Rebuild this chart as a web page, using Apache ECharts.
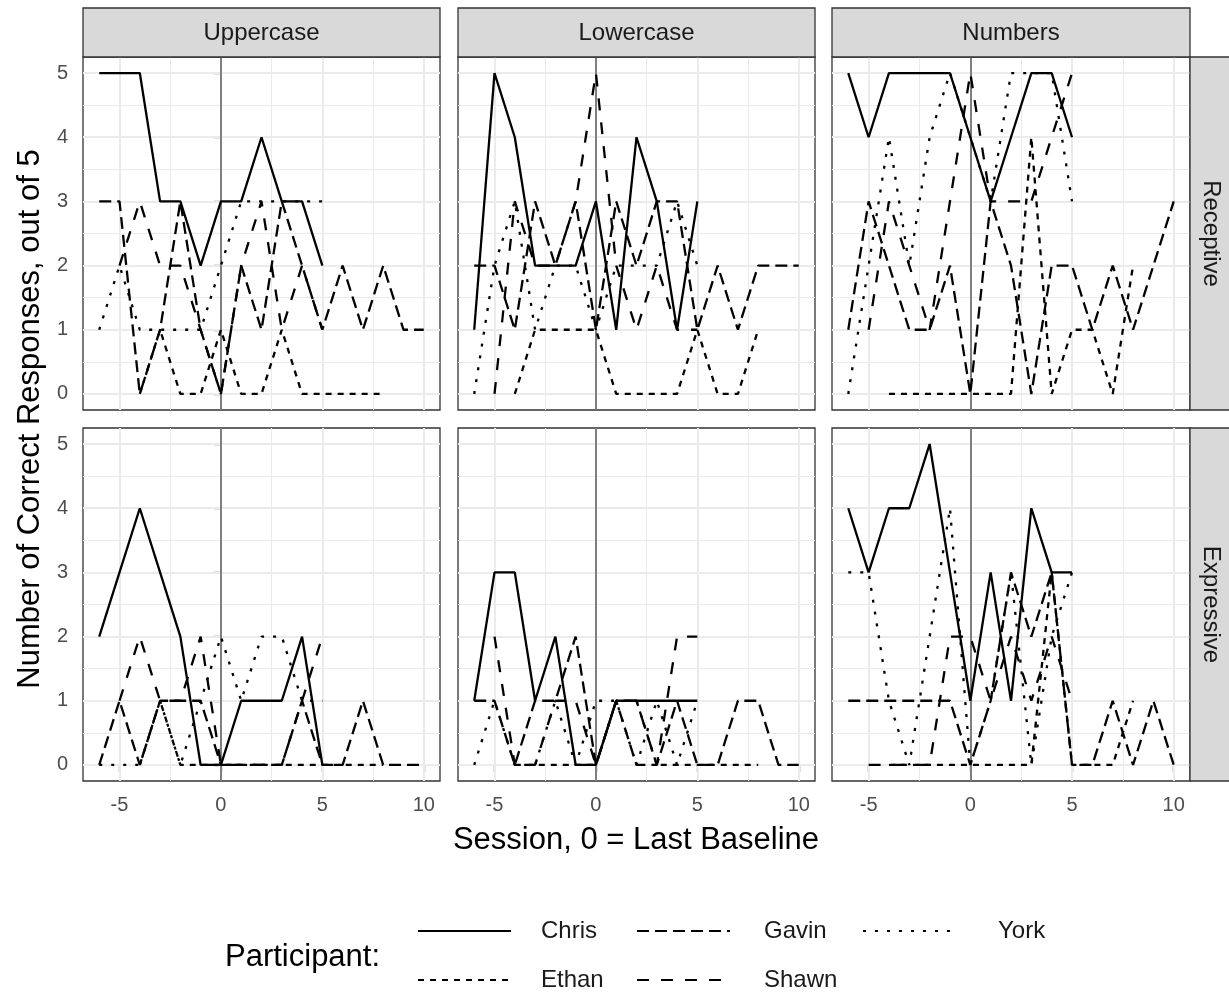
<!DOCTYPE html>
<html><head><meta charset="utf-8">
<script src="https://cdn.jsdelivr.net/npm/echarts@6/dist/echarts.min.js"></script>
<style>html,body{margin:0;padding:0;background:#fff}#c{width:1229px;height:995px}</style>
</head><body><div id="c"></div>
<script>
const n = null;
const sessions = [-6,-5,-4,-3,-2,-1,0,1,2,3,4,5,6,7,8,9,10];
const participants = ['Chris','Ethan','Gavin','Shawn','York'];
const materials = ['Uppercase','Lowercase','Numbers'];
const tasks = ['Receptive','Expressive'];
const xTicks = [-5,0,5,10];
const yTicks = [0,1,2,3,4,5];
const xMinor = [-2.5,2.5,7.5];
const yMinor = [0.5,1.5,2.5,3.5,4.5];
const lastBaseline = [0];

// Uppercase / Receptive
const upperRecChris = [5,5,5,3,3,2,3,3,4,3,3,2,n,n,n,n,n];
const upperRecEthan = [n,n,0,1,0,0,1,0,0,1,0,0,0,0,0,n,n];
const upperRecGavin = [3,3,0,1,3,1,0,2,1,3,2,1,2,1,2,1,1];
const upperRecShawn = [n,2,3,2,2,1,0,2,3,1,2,1,n,n,n,n,n];
const upperRecYork  = [1,2,1,1,1,1,2,3,3,3,3,3,n,n,n,n,n];
// Lowercase / Receptive
const lowerRecChris = [1,5,4,2,2,2,3,1,4,3,1,3,n,n,n,n,n];
const lowerRecEthan = [n,n,0,1,1,1,1,0,0,0,0,1,0,0,1,n,n];
const lowerRecGavin = [2,2,1,3,2,3,1,3,2,3,3,1,2,1,2,2,2];
const lowerRecShawn = [n,0,3,2,2,3,5,2,1,2,1,1,n,n,n,n,n];
const lowerRecYork  = [0,2,3,1,2,2,1,2,2,2,3,2,n,n,n,n,n];
// Numbers / Receptive
const numRecChris = [5,4,5,5,5,5,4,3,4,5,5,4,n,n,n,n,n];
const numRecEthan = [n,n,0,0,0,0,0,0,0,4,0,1,1,0,2,n,n];
const numRecGavin = [1,3,2,1,1,2,0,3,2,0,2,2,1,2,1,2,3];
const numRecShawn = [n,1,3,2,1,3,5,3,3,3,4,5,n,n,n,n,n];
const numRecYork  = [0,2,4,2,4,5,4,3,5,5,5,3,n,n,n,n,n];
// Uppercase / Expressive
const upperExpChris = [2,3,4,3,2,0,0,1,1,1,2,0,n,n,n,n,n];
const upperExpEthan = [n,n,0,1,0,0,0,0,0,0,0,0,0,0,0,n,n];
const upperExpGavin = [0,1,0,1,1,1,0,0,0,0,1,0,0,1,0,0,0];
const upperExpShawn = [n,1,2,1,1,2,0,0,0,0,1,2,n,n,n,n,n];
const upperExpYork  = [0,0,0,1,0,1,2,1,2,2,1,1,n,n,n,n,n];
// Lowercase / Expressive
const lowerExpChris = [1,3,3,1,2,0,0,1,1,1,1,1,n,n,n,n,n];
const lowerExpEthan = [n,n,0,0,0,0,0,1,1,0,0,0,0,0,0,n,n];
const lowerExpGavin = [1,1,0,1,1,2,0,1,0,0,1,0,0,1,1,0,0];
const lowerExpShawn = [n,2,0,0,1,1,0,1,1,0,2,2,n,n,n,n,n];
const lowerExpYork  = [0,1,0,0,1,0,1,1,0,1,0,1,n,n,n,n,n];
// Numbers / Expressive
const numExpChris = [4,3,4,4,5,3,1,3,1,4,3,3,n,n,n,n,n];
const numExpEthan = [n,n,0,0,0,0,0,0,0,0,3,0,0,0,1,n,n];
const numExpGavin = [1,1,1,1,1,1,0,1,3,2,3,0,0,1,0,1,0];
const numExpShawn = [n,0,0,0,0,2,2,1,2,1,2,1,n,n,n,n,n];
const numExpYork  = [3,3,1,0,2,4,0,1,3,0,2,3,n,n,n,n,n];

const panels = [
  [upperRecChris, upperRecEthan, upperRecGavin, upperRecShawn, upperRecYork],
  [lowerRecChris, lowerRecEthan, lowerRecGavin, lowerRecShawn, lowerRecYork],
  [numRecChris, numRecEthan, numRecGavin, numRecShawn, numRecYork],
  [upperExpChris, upperExpEthan, upperExpGavin, upperExpShawn, upperExpYork],
  [lowerExpChris, lowerExpEthan, lowerExpGavin, lowerExpShawn, lowerExpYork],
  [numExpChris, numExpEthan, numExpGavin, numExpShawn, numExpYork]
];

const FONT = '"Liberation Sans", Arial, Helvetica, sans-serif';
const dashFor = {Chris:'solid', Ethan:[6,6], Gavin:[12,6], Shawn:[12,12], York:[3,9]};
const cols = [{left:83,width:357},{left:458,width:357},{left:832,width:358}];
const rows = [{top:57,height:353},{top:428,height:353}];

const grids = [], xAxes = [], yAxes = [], series = [];
for (let r = 0; r < 2; r++) {
  for (let c = 0; c < 3; c++) {
    const i = r * 3 + c;
    grids.push({left:cols[c].left, top:rows[r].top, width:cols[c].width, height:rows[r].height,
      show:true, backgroundColor:'#fff', borderColor:'#333333', borderWidth:1.3, containLabel:false});
    xAxes.push({gridIndex:i, type:'value', min:-6.8, max:10.8,
      axisLine:{show:false}, splitLine:{show:false},
      axisTick:{show:r===1, customValues:xTicks, length:7, lineStyle:{color:'#333333', width:1.3}},
      axisLabel:{show:r===1, customValues:xTicks, fontSize:20, color:'#4D4D4D', margin:14, fontFamily:FONT}});
    yAxes.push({gridIndex:i, type:'value', min:-0.25, max:5.25,
      axisLine:{show:false}, splitLine:{show:false},
      axisTick:{show:c===0, customValues:yTicks, length:7, lineStyle:{color:'#333333', width:1.3}},
      axisLabel:{show:c===0, customValues:yTicks, fontSize:20, color:'#4D4D4D', margin:15, fontFamily:FONT}});
    series.push({type:'line', xAxisIndex:i, yAxisIndex:i, data:[], silent:true, z:1,
      markLine:{silent:true, symbol:'none', animation:false, label:{show:false}, z:1,
        lineStyle:{color:'#EBEBEB', width:1, type:'solid'},
        data:[...xMinor.map(v=>({xAxis:v})), ...yMinor.map(v=>({yAxis:v}))]}});
    series.push({type:'line', xAxisIndex:i, yAxisIndex:i, data:[], silent:true, z:1,
      markLine:{silent:true, symbol:'none', animation:false, label:{show:false}, z:1,
        lineStyle:{color:'#EBEBEB', width:2, type:'solid'},
        data:[...xTicks.map(v=>({xAxis:v})), ...yTicks.map(v=>({yAxis:v}))]}});
    series.push({type:'line', xAxisIndex:i, yAxisIndex:i, data:[], silent:true, z:2,
      markLine:{silent:true, symbol:'none', animation:false, label:{show:false}, z:2,
        lineStyle:{color:'#7F7F7F', width:2, type:'solid'},
        data:lastBaseline.map(v=>({xAxis:v}))}});
    participants.forEach((p, k) => {
      const vals = panels[i][k];
      const data = [];
      sessions.forEach((s, j) => { if (vals[j] !== null) data.push([s, vals[j]]); });
      series.push({type:'line', name:p, xAxisIndex:i, yAxisIndex:i, data:data, color:'#000',
        symbol:'none', showSymbol:false, animation:false, z:3, silent:true,
        itemStyle:{color:'#000'},
        lineStyle:{color:'#000', width:2.3, type:dashFor[p]}});
    });
  }
}

const graphics = [];
cols.forEach((c, k) => {
  graphics.push({type:'rect', shape:{x:c.left, y:8, width:c.width, height:49},
    style:{fill:'#D9D9D9', stroke:'#333333', lineWidth:1.3}, z:10});
  graphics.push({type:'text', x:c.left + c.width/2, y:33, z:11,
    style:{text:materials[k], fill:'#1A1A1A', font:'24px ' + FONT, textAlign:'center', textVerticalAlign:'middle'}});
});
rows.forEach((r, k) => {
  graphics.push({type:'rect', shape:{x:1190, y:r.top, width:42, height:r.height},
    style:{fill:'#D9D9D9', stroke:'#333333', lineWidth:1.3}, z:10});
  graphics.push({type:'text', x:1211, y:r.top + r.height/2, rotation:-Math.PI/2, z:11,
    style:{text:tasks[k], fill:'#1A1A1A', font:'24px ' + FONT, textAlign:'center', textVerticalAlign:'middle'}});
});
graphics.push({type:'text', x:30, y:419, rotation:Math.PI/2, z:11,
  style:{text:'Number of Correct Responses, out of 5', fill:'#000', font:'31px ' + FONT, textAlign:'center', textVerticalAlign:'middle'}});
graphics.push({type:'text', x:636, y:840, z:11,
  style:{text:'Session, 0 = Last Baseline', fill:'#000', font:'31px ' + FONT, textAlign:'center', textVerticalAlign:'middle'}});
graphics.push({type:'text', x:225, y:957, z:11,
  style:{text:'Participant:', fill:'#000', font:'31px ' + FONT, textAlign:'left', textVerticalAlign:'middle'}});

const legendBase = {orient:'horizontal', itemWidth:93, itemHeight:14, itemGap:0, padding:0, selectedMode:false,
  itemStyle:{opacity:0},
  textStyle:{fontSize:24, color:'#1A1A1A', fontFamily:FONT, lineHeight:28}};
const li = (name, pad, w) => ({name:name, textStyle:{padding:[0,0,0,pad], width:w}});

const chart = echarts.init(document.getElementById('c'), null, {renderer:'canvas'});
chart.setOption({
  animation:false,
  backgroundColor:'#fff',
  grid:grids, xAxis:xAxes, yAxis:yAxes, series:series,
  legend:[
    Object.assign({}, legendBase, {data:[li('Chris',25,95), li('Gavin',29,98), li('York',37,80)], left:417, top:917}),
    Object.assign({}, legendBase, {data:[li('Ethan',25,95), li('Shawn',29,98)], left:417, top:966})
  ],
  graphic:graphics
});
</script></body></html>
